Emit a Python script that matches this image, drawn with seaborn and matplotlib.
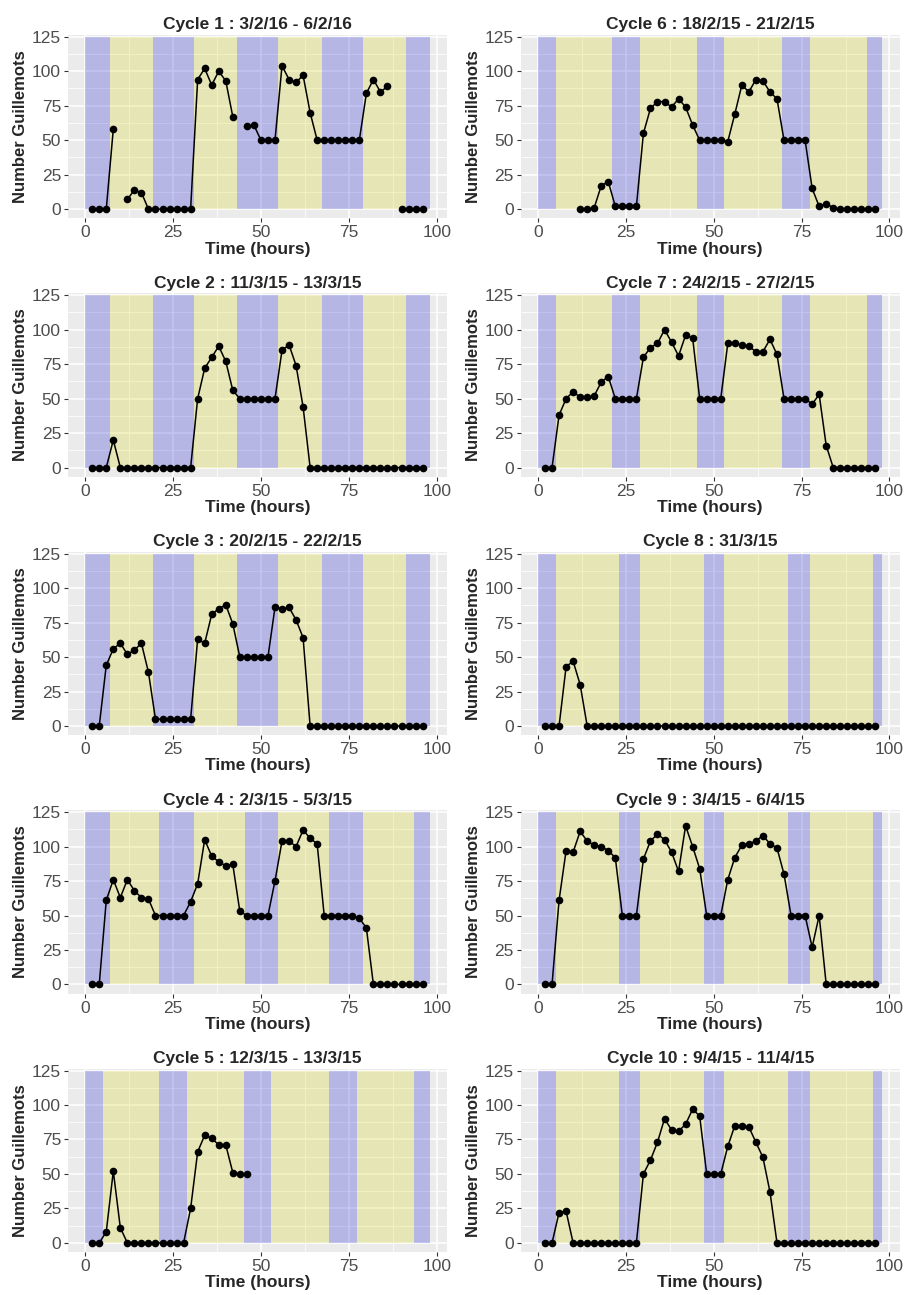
import numpy as np
import pandas as pd
import matplotlib.pyplot as plt
import seaborn as sns

nan = np.nan
hours = list(range(2, 97, 2))

cycle1 = [0, 0, 0, 58, nan, 7, 14, 12,
          0, 0, 0, 0, 0, 0, 0, 94,
          102, 90, 100, 93, 67, nan, 60, 61,
          50, 50, 50, 104, 94, 92, 97, 70,
          50, 50, 50, 50, 50, 50, 50, 84,
          94, 85, 89, nan, 0, 0, 0, 0]
cycle2 = [0, 0, 0, 20, 0, 0, 0, 0,
          0, 0, 0, 0, 0, 0, 0, 50,
          72, 80, 88, 77, 56, 50, 50, 50,
          50, 50, 50, 85, 89, 74, 44, 0,
          0, 0, 0, 0, 0, 0, 0, 0,
          0, 0, 0, 0, 0, 0, 0, 0]
cycle3 = [0, 0, 44, 56, 60, 52, 55, 60,
          39, 5, 5, 5, 5, 5, 5, 63,
          60, 81, 85, 88, 74, 50, 50, 50,
          50, 50, 86, 85, 86, 77, 64, 0,
          0, 0, 0, 0, 0, 0, 0, 0,
          0, 0, 0, 0, 0, 0, 0, 0]
cycle4 = [0, 0, 61, 76, 63, 76, 68, 63,
          62, 50, 50, 50, 50, 50, 60, 73,
          105, 93, 89, 86, 87, 53, 50, 50,
          50, 50, 75, 104, 104, 100, 112, 106,
          102, 50, 50, 50, 50, 50, 48, 41,
          0, 0, 0, 0, 0, 0, 0, 0]
cycle5 = [0, 0, 8, 52, 11, 0, 0, 0,
          0, 0, 0, 0, 0, 0, 25, 66,
          78, 76, 71, 71, 51, 50, 50, nan,
          nan, nan, nan, nan, nan, nan, nan, nan,
          nan, nan, nan, nan, nan, nan, nan, nan,
          nan, nan, nan, nan, nan, nan, nan, nan]
cycle6 = [nan, nan, nan, nan, nan, 0, 0, 1,
          17, 20, 2, 2, 2, 2, 55, 73,
          78, 78, 74, 80, 74, 61, 50, 50,
          50, 50, 49, 69, 90, 85, 94, 93,
          85, 80, 50, 50, 50, 50, 15, 2,
          4, 1, 0, 0, 0, 0, 0, 0]
cycle7 = [0, 0, 38, 50, 55, 51, 51, 52,
          62, 66, 50, 50, 50, 50, 80, 87,
          90, 100, 91, 81, 96, 94, 50, 50,
          50, 50, 90, 90, 89, 88, 84, 84,
          93, 82, 50, 50, 50, 50, 46, 53,
          16, 0, 0, 0, 0, 0, 0, 0]
cycle8 = [0, 0, 0, 43, 47, 30, 0, 0,
          0, 0, 0, 0, 0, 0, 0, 0,
          0, 0, 0, 0, 0, 0, 0, 0,
          0, 0, 0, 0, 0, 0, 0, 0,
          0, 0, 0, 0, 0, 0, 0, 0,
          0, 0, 0, 0, 0, 0, 0, 0]
cycle9 = [0, 0, 61, 97, 96, 111, 104, 101,
          100, 97, 92, 50, 50, 50, 91, 104,
          109, 105, 96, 82, 115, 100, 84, 50,
          50, 50, 76, 92, 101, 102, 104, 108,
          102, 99, 80, 50, 50, 50, 27, 50,
          0, 0, 0, 0, 0, 0, 0, 0]
cycle10 = [0, 0, 22, 23, 0, 0, 0, 0,
           0, 0, 0, 0, 0, 0, 50, 60,
           73, 90, 82, 81, 86, 97, 92, 50,
           50, 50, 70, 85, 85, 84, 73, 62,
           37, 0, 0, 0, 0, 0, 0, 0,
           0, 0, 0, 0, 0, 0, 0, 0]

titles = ["Cycle 1 : 3/2/16 - 6/2/16", "Cycle 2 : 11/3/15 - 13/3/15",
          "Cycle 3 : 20/2/15 - 22/2/15", "Cycle 4 : 2/3/15 - 5/3/15",
          "Cycle 5 : 12/3/15 - 13/3/15", "Cycle 6 : 18/2/15 - 21/2/15",
          "Cycle 7 : 24/2/15 - 27/2/15", "Cycle 8 : 31/3/15",
          "Cycle 9 : 3/4/15 - 6/4/15", "Cycle 10 : 9/4/15 - 11/4/15"]

# night / day boundaries (hours), starting with night at 0
bands_a = [0, 7, 19.2, 31, 43.2, 55, 67.3, 79, 91.3, 98]
bands_b = [0, 7, 21, 31, 45.4, 55, 69.3, 79, 93.5, 98]
bands_c = [0, 5, 21, 29, 45.3, 53, 69.3, 77.3, 93.5, 98]
bands_d = [0, 5, 23, 29, 47.2, 53, 71, 77.3, 95.2, 98]

series = [cycle1, cycle2, cycle3, cycle4, cycle5,
          cycle6, cycle7, cycle8, cycle9, cycle10]
bands = [bands_a, bands_a, bands_a, bands_b, bands_c,
         bands_c, bands_c, bands_d, bands_d, bands_d]

sns.set_theme(style="darkgrid", rc={"axes.facecolor": "#EBEBEB",
                                    "grid.color": "white"})
plt.rcParams["font.family"] = ["Liberation Sans", "DejaVu Sans"]

fig, axes = plt.subplots(5, 2, figsize=(9.06, 12.95), dpi=100)
fig.subplots_adjust(left=0.075, right=0.993, top=0.973, bottom=0.0332,
                    wspace=0.195, hspace=0.41)

night_col = "#1a1ad0"
day_col = "#d8d518"

for i in range(10):
    ax = axes[i % 5, i // 5]
    df = pd.DataFrame({"hours": hours, "count": series[i]})
    df["seg"] = df["count"].isna().cumsum()
    df = df.dropna()

    b = bands[i]
    for k in range(len(b) - 1):
        col = night_col if k % 2 == 0 else day_col
        ax.fill_between([b[k], b[k + 1]], 0, 125, color=col, alpha=0.25,
                        lw=0, zorder=1)

    sns.lineplot(data=df, x="hours", y="count", units="seg", estimator=None,
                 color="black", marker="o", markersize=5.5,
                 markeredgewidth=0, linewidth=1.1, ax=ax, zorder=3)

    ax.set_xlim(-4.9, 102.9)
    ax.set_ylim(-6.6, 126.3)
    ax.set_xticks([0, 25, 50, 75, 100])
    ax.set_yticks([0, 25, 50, 75, 100, 125])
    ax.set_xticks([12.5, 37.5, 62.5, 87.5], minor=True)
    ax.set_yticks([12.5, 37.5, 62.5, 87.5, 112.5], minor=True)
    ax.grid(which="major", color="white", lw=1.1)
    ax.grid(which="minor", color="white", lw=0.55)
    ax.tick_params(which="major", length=3, width=0.8, color="#333333",
                   labelsize=12.5, labelcolor="#4D4D4D", pad=2,
                   bottom=True, left=True)
    ax.tick_params(which="minor", length=0)
    for s in ax.spines.values():
        s.set_visible(False)

    ax.set_title(titles[i], fontsize=12.5, fontweight="bold", pad=4)
    ax.set_xlabel("Time (hours)", fontsize=12.5, fontweight="bold", labelpad=1)
    ax.set_ylabel("Number Guillemots", fontsize=12, fontweight="bold",
                  labelpad=3)

fig.savefig("out.png", dpi=100)
